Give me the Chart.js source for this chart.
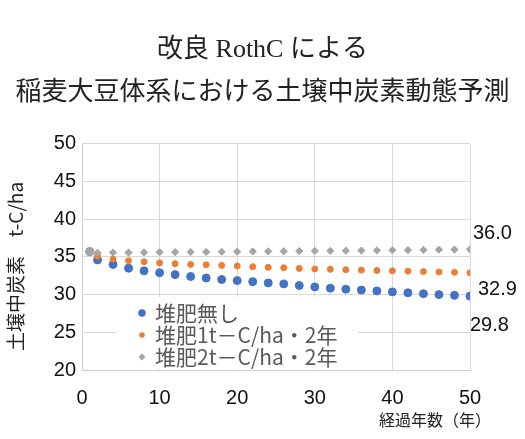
<!DOCTYPE html>
<html>
<head>
<meta charset="utf-8">
<script src="https://cdn.jsdelivr.net/npm/chart.js@4"></script>
<style>
    html, body { margin: 0; padding: 0; background: #fff; }
    #wrap { width: 525px; height: 439px; }
</style>
</head>
<body>
<div id="wrap"><canvas id="myChart"></canvas></div>
<script>
const titleLines = ['改良 RothC による', '稲麦大豆体系における土壌中炭素動態予測'];
const yTitle = '土壌中炭素　t-C/ha　';
const xTitle = '経過年数（年）';

const years = [1, 2, 4, 6, 8, 10, 12, 14, 16, 18, 20, 22, 24, 26, 28, 30, 32, 34, 36, 38, 40, 42, 44, 46, 48, 50];

const noCompost = [35.7, 34.6, 34.0, 33.5, 33.15, 32.9, 32.65, 32.4, 32.2, 32.0, 31.86, 31.72, 31.55,
    31.42, 31.2, 31.02, 30.85, 30.72, 30.6, 30.48, 30.36, 30.24, 30.12, 30.0, 29.9, 29.8];
const compost1t = [35.7, 35.1, 34.7, 34.5, 34.35, 34.2, 34.1, 34.0, 33.95, 33.87, 33.8, 33.7, 33.62,
    33.55, 33.47, 33.4, 33.35, 33.3, 33.25, 33.2, 33.15, 33.1, 33.05, 33.0, 32.95, 32.9];
const compost2t = [35.7, 35.55, 35.57, 35.58, 35.6, 35.62, 35.63, 35.65, 35.66, 35.68, 35.7, 35.72, 35.73,
    35.75, 35.77, 35.79, 35.8, 35.82, 35.84, 35.86, 35.88, 35.9, 35.92, 35.95, 35.97, 36.0];

const seriesNames = ['堆肥無し', '堆肥1t－C/ha・2年', '堆肥2t－C/ha・2年'];
const endLabels = ['29.8', '32.9', '36.0'];

const jp = "'Noto Sans CJK JP', sans-serif";
const num = "'Liberation Sans', Arial, sans-serif";

function toPoints(vals) {
    return years.map((x, i) => ({ x: x, y: vals[i] }));
}

// legend box inside the plot, and the value labels at the line ends
const extras = {
    id: 'extras',
    beforeDatasetsDraw(chart) {
        const ctx = chart.ctx;
        const a = chart.chartArea;
        const bx = a.left + 35, bw = 241, bh = 73, by = a.bottom - bh;
        ctx.save();
        ctx.fillStyle = '#fff';
        ctx.fillRect(bx, by, bw, bh - 1);
        ctx.font = '21px ' + jp;
        ctx.textBaseline = 'middle';
        const rows = [by + 16, by + 38, by + 60];
        chart.data.datasets.forEach((ds, i) => {
            const mx = bx + 25, my = rows[i];
            ctx.fillStyle = ds.backgroundColor;
            ctx.beginPath();
            if (i == 2) {
                ctx.moveTo(mx, my - 3.5); ctx.lineTo(mx + 3.5, my);
                ctx.lineTo(mx, my + 3.5); ctx.lineTo(mx - 3.5, my);
            } else {
                ctx.arc(mx, my, i == 0 ? 3.8 : 2.8, 0, Math.PI * 2);
            }
            ctx.fill();
            ctx.fillStyle = '#595959';
            ctx.fillText(ds.label, bx + 38, my);
        });
        ctx.restore();
    },
    afterDatasetsDraw(chart) {
        const ctx = chart.ctx;
        const offs = [[0, 29], [8, 17], [3, -16]];
        ctx.save();
        ctx.font = '20px ' + num;
        ctx.fillStyle = '#111';
        ctx.textBaseline = 'middle';
        ctx.textAlign = 'left';
        chart.data.datasets.forEach((ds, i) => {
            const pts = chart.getDatasetMeta(i).data;
            const p = pts[pts.length - 1];
            ctx.fillText(endLabels[i], p.x + offs[i][0], p.y + offs[i][1]);
        });
        // x axis title sits right of the axis end
        ctx.font = '16px ' + jp;
        ctx.fillStyle = '#222';
        ctx.textAlign = 'right';
        ctx.fillText(xTitle, chart.chartArea.right + 21, chart.chartArea.bottom + 50);
        ctx.restore();
    }
};

const data = {
    datasets: [{
        label: seriesNames[0],
        data: toPoints(noCompost),
        backgroundColor: '#4472C4',
        borderColor: '#4472C4',
        pointRadius: 4,
        pointStyle: 'circle',
        order: 2
    }, {
        label: seriesNames[1],
        data: toPoints(compost1t),
        backgroundColor: '#ED7D31',
        borderColor: '#ED7D31',
        pointRadius: 3,
        pointStyle: 'circle',
        order: 1
    }, {
        label: seriesNames[2],
        data: toPoints(compost2t),
        backgroundColor: '#A5A5A5',
        borderColor: '#A5A5A5',
        pointRadius: years.map((x, i) => i == 0 ? 4 : 3.6),
        pointStyle: years.map((x, i) => i == 0 ? 'circle' : 'rectRot'),
        order: 0
    }]
};

const config = {
    type: 'scatter',
    data: data,
    plugins: [extras],
    options: {
        responsive: true,
        maintainAspectRatio: false,
        animation: false,
        layout: { padding: 0 },
        plugins: {
            legend: { display: false },
            tooltip: { enabled: false },
            title: {
                display: true,
                text: titleLines,
                color: '#222',
                font: { family: "'Liberation Serif', 'Noto Sans CJK JP', serif", size: 26, weight: 'normal', lineHeight: 1.65 },
                padding: { top: 29, bottom: 29 }
            }
        },
        scales: {
            x: {
                type: 'linear',
                min: 0,
                max: 50,
                afterFit: (s) => { s.height = 69; },
                ticks: { stepSize: 10, color: '#111', padding: 16, font: { family: num, size: 20 } },
                grid: { color: '#d9d9d9', drawTicks: false },
                border: { color: '#d0d0d0' }
            },
            y: {
                min: 20,
                max: 50,
                afterFit: (s) => { s.width = 82; },
                ticks: { stepSize: 5, color: '#111', padding: 6, font: { family: num, size: 20 } },
                grid: { color: '#d9d9d9', drawTicks: false },
                border: { color: '#d0d0d0' },
                title: {
                    display: true,
                    text: yTitle,
                    color: '#222',
                    font: { family: jp, size: 19 },
                    padding: { top: 4, bottom: 0 }
                }
            },
            // empty right axis, keeps room for the end labels
            yRight: {
                position: 'right',
                min: 20,
                max: 50,
                afterFit: (s) => { s.width = 55; },
                ticks: { display: false },
                grid: { display: false },
                border: { display: false }
            }
        }
    }
};

const myChart = new Chart(document.getElementById('myChart'), config);
</script>
</body>
</html>
